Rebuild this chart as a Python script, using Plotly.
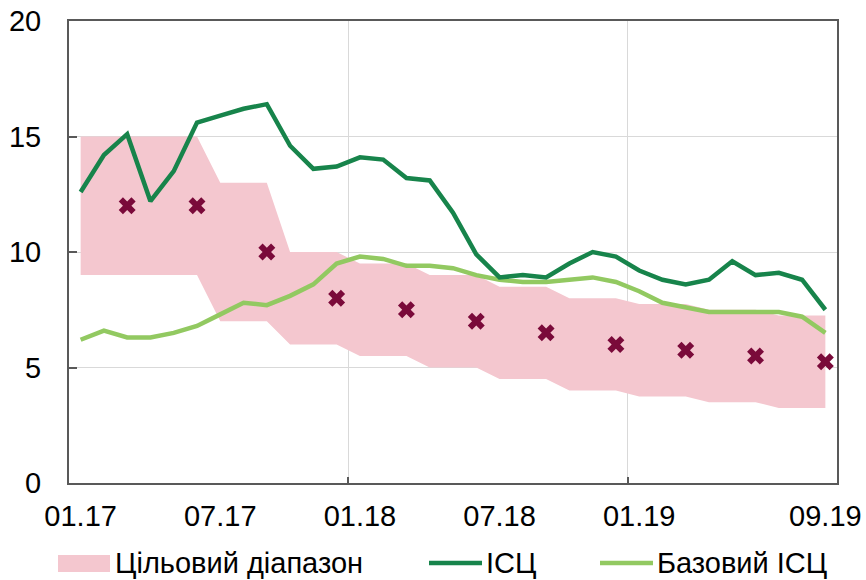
import plotly.graph_objects as go

# Monthly period labels, 01.17 .. 09.19
months = [f"{m:02d}.{y}" for y in (17, 18, 19) for m in range(1, 13)][:33]

# Consumer price inflation, % y/y
cpi = [12.6, 14.2, 15.1, 12.2, 13.5, 15.6, 15.9, 16.2, 16.4, 14.6, 13.6, 13.7,
       14.1, 14.0, 13.2, 13.1, 11.7, 9.9, 8.9, 9.0, 8.9, 9.5, 10.0, 9.8,
       9.2, 8.8, 8.6, 8.8, 9.6, 9.0, 9.1, 8.8, 7.5]

# Core inflation, % y/y
core_cpi = [6.2, 6.6, 6.3, 6.3, 6.5, 6.8, 7.3, 7.8, 7.7, 8.1, 8.6, 9.5,
            9.8, 9.7, 9.4, 9.4, 9.3, 9.0, 8.8, 8.7, 8.7, 8.8, 8.9, 8.7,
            8.3, 7.8, 7.6, 7.4, 7.4, 7.4, 7.4, 7.2, 6.5]

# Target range bounds
band_low = [9, 9, 9, 9, 9, 9, 7, 7, 7, 6, 6, 6,
            5.5, 5.5, 5.5, 5, 5, 5, 4.5, 4.5, 4.5, 4, 4, 4,
            3.75, 3.75, 3.75, 3.5, 3.5, 3.5, 3.25, 3.25, 3.25]
band_high = [15, 15, 15, 15, 15, 15, 13, 13, 13, 10, 10, 10,
             9.5, 9.5, 9.5, 9, 9, 9, 8.5, 8.5, 8.5, 8, 8, 8,
             7.75, 7.75, 7.75, 7.5, 7.5, 7.5, 7.25, 7.25, 7.25]

# Inflation targets at quarter ends
target_months = ["03.17", "06.17", "09.17", "12.17", "03.18", "06.18",
                 "09.18", "12.18", "03.19", "06.19", "09.19"]
target_values = [12, 12, 10, 8, 7.5, 7, 6.5, 6, 5.75, 5.5, 5.25]

x_tick_labels = ["01.17", "07.17", "01.18", "07.18", "01.19", "09.19"]

PINK = "#F4C7CF"
DARK_GREEN = "#17844B"
LIGHT_GREEN = "#92C961"
MAROON = "#7A0A3A"
FRAME = "#595959"
GRID = "#D9D9D9"
FONT = "Liberation Sans, Arial, sans-serif"
FONT_SIZE = 29

idx = {m: i for i, m in enumerate(months)}
xs = list(range(len(months)))

fig = go.Figure()
fig.add_trace(go.Scatter(x=xs, y=band_low, mode="lines", line=dict(width=0),
                         hoverinfo="skip", showlegend=False))
fig.add_trace(go.Scatter(x=xs, y=band_high, mode="lines", line=dict(width=0),
                         fill="tonexty", fillcolor=PINK,
                         name="Цільовий діапазон", showlegend=False))
fig.add_trace(go.Scatter(x=xs, y=core_cpi, mode="lines",
                         line=dict(color=LIGHT_GREEN, width=4.5),
                         name="Базовий ІСЦ", showlegend=False))
fig.add_trace(go.Scatter(x=xs, y=cpi, mode="lines",
                         line=dict(color=DARK_GREEN, width=4.5),
                         name="ІСЦ", showlegend=False))
fig.add_trace(go.Scatter(x=[idx[m] for m in target_months], y=target_values,
                         mode="markers",
                         marker=dict(symbol="x", size=15, color=MAROON,
                                     line=dict(width=0)),
                         name="Ціль", showlegend=False))

fig.update_xaxes(
    range=[-0.5, len(months) - 0.5],
    tickvals=[idx[m] for m in x_tick_labels], ticktext=x_tick_labels,
    ticks="", showgrid=False,
    showline=True, mirror=True, linecolor=FRAME, linewidth=2,
    ticklabelstandoff=6, automargin=False,
    minor=dict(tickvals=[11.5, 23.5], showgrid=True, gridcolor=GRID,
               gridwidth=1, ticks="inside", ticklen=6, tickcolor=FRAME,
               tickwidth=2),
    tickfont=dict(size=FONT_SIZE, color="#000000", family=FONT),
    zeroline=False,
)
fig.update_yaxes(
    range=[0, 20], tickvals=[0, 5, 10, 15, 20],
    showgrid=True, gridcolor=GRID, gridwidth=1,
    ticks="inside", ticklen=8, tickcolor=FRAME, tickwidth=2,
    showline=True, mirror=True, linecolor=FRAME, linewidth=2,
    ticklabelstandoff=20, automargin=False,
    tickfont=dict(size=FONT_SIZE, color="#000000", family=FONT),
    zeroline=False,
)

# Legend row beneath the axis
legend_y = 563
def px_x(v):
    return (v - 69) / 768
def px_y(v):
    return (483 - v) / 462

shapes = [
    dict(type="rect", xref="paper", yref="paper",
         x0=px_x(58), x1=px_x(110), y0=px_y(572), y1=px_y(555),
         fillcolor=PINK, line=dict(width=0)),
    dict(type="line", xref="paper", yref="paper",
         x0=px_x(429), x1=px_x(482), y0=px_y(legend_y), y1=px_y(legend_y),
         line=dict(color=DARK_GREEN, width=4.5)),
    dict(type="line", xref="paper", yref="paper",
         x0=px_x(600), x1=px_x(653), y0=px_y(legend_y), y1=px_y(legend_y),
         line=dict(color=LIGHT_GREEN, width=4.5)),
]
legend_texts = [(113, "Цільовий діапазон"), (484, "ІСЦ"), (655, "Базовий ІСЦ")]
annotations = [
    dict(x=px_x(x0), y=px_y(legend_y), xref="paper", yref="paper",
         text=t, showarrow=False, xanchor="left", yanchor="middle",
         font=dict(size=FONT_SIZE, color="#000000", family=FONT))
    for x0, t in legend_texts
]

fig.update_layout(
    width=866, height=580,
    margin=dict(l=69, r=29, t=21, b=97),
    paper_bgcolor="white", plot_bgcolor="white",
    showlegend=False,
    shapes=shapes, annotations=annotations,
    font=dict(family=FONT),
)

fig.write_html("out.html")
